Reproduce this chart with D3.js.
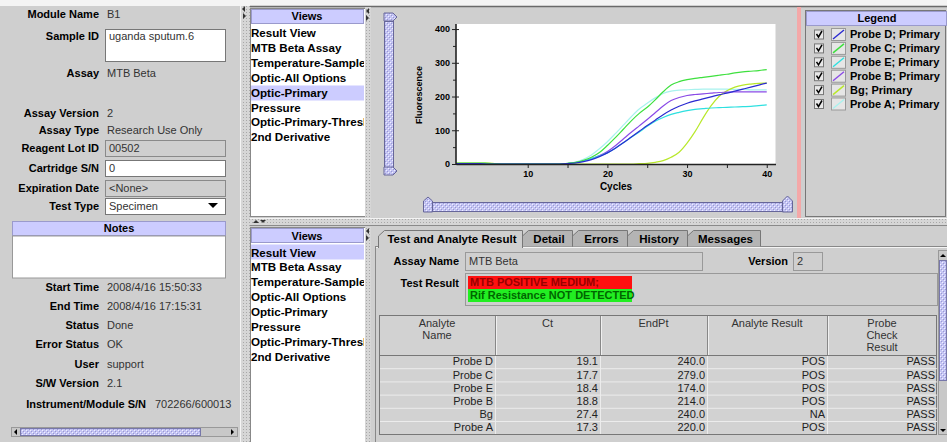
<!DOCTYPE html>
<html><head><meta charset="utf-8">
<script src="https://cdn.jsdelivr.net/npm/d3@7/dist/d3.min.js"></script>
<style>html,body{margin:0;padding:0;background:#fff;overflow:hidden}svg{display:block;font-family:"Liberation Sans",Arial,Helvetica,sans-serif}</style>
</head><body><svg id="c" width="947" height="442"></svg>
<script>
// ---------------- DATA ----------------
const cycles = [1,2,3,4,5,6,7,8,9,10,11,12,13,14,15,16,17,18,19,20,21,22,23,24,25,26,27,28,29,30,31,32,33,34,35,36,37,38,39,40];
const probeD = [1,1,1,1,0,0,0,0,0,0,0,0,0,0,1,3,7,13,22,33,47,63,80,97,114,130,146,160,171,180,187,193,199,205,210,216,222,228,234,240];
const probeC = [3,3,3,3,2,1,0,0,0,0,0,0,0,0,2,5,11,20,34,55,78,103,128,150,168,190,214,234,244,250,254,257,260,263,266,270,273,275,277,280];
const probeE = [0,0,0,0,0,0,0,0,0,0,0,0,0,0,1,4,9,16,24,33,47,63,79,95,112,127,138,147,153,158,162,164,166,167,168,169,170,171,173,175];
const probeB = [0,0,0,0,0,0,0,0,0,0,0,0,0,0,1,4,9,16,25,37,54,74,94,113,132,152,172,188,197,203,206,208,210,212,213,214,214,214,214,214];
const bg     = [3,3,3,3,3,1,0,0,0,0,0,0,0,0,0,0,0,0,0,0,0,0,0,1,2,5,10,20,35,62,96,136,172,200,217,228,234,237,239,240];
const probeA = [1,1,1,1,0,0,0,0,0,0,0,0,0,0,2,6,14,27,45,66,90,115,140,163,180,196,209,216,219,220,221,222,222,222,222,221,221,220,220,220];
const seriesNames = ["Probe D; Primary","Probe C; Primary","Probe E; Primary","Probe B; Primary","Bg; Primary","Probe A; Primary"];
const seriesValues = [probeD, probeC, probeE, probeB, bg, probeA];
const seriesColors = ["#2a2ad0","#3ee03e","#2ee0e0","#8a4ae6","#b8e82a","#a8f2ee"];
const yTickValues = [0,50,100,150,200,250,300,350,400];
const xTickValues = [10,15,20,25,30,35,40];
const viewItems = ["Result View","MTB Beta Assay","Temperature-Sample","Optic-All Options","Optic-Primary","Pressure","Optic-Primary-Threshold","2nd Derivative"];
const infoLabels = ["Module Name","Sample ID","Assay","Assay Version","Assay Type","Reagent Lot ID","Cartridge S/N","Expiration Date","Test Type"];
const infoValues = ["B1","uganda sputum.6","MTB Beta","2","Research Use Only","00502","0","<None>","Specimen"];
const statusLabels = ["Start Time","End Time","Status","Error Status","User","S/W Version"];
const statusValues = ["2008/4/16 15:50:33","2008/4/16 17:15:31","Done","OK","support","2.1"];
const tabNames = ["Test and Analyte Result","Detail","Errors","History","Messages"];
const analyteNames = ["Probe D","Probe C","Probe E","Probe B","Bg","Probe A"];
const ctValues = [19.1,17.7,18.4,18.8,27.4,17.3];
const endPtValues = [240.0,279.0,174.0,214.0,240.0,220.0];
const analyteResults = ["POS","POS","POS","POS","NA","POS"];
const probeCheck = ["PASS","PASS","PASS","PASS","PASS","PASS"];

// ---------------- HELPERS ----------------
const GRAY = "#cfcfcf", LAV = "#ccccff";
const svg = d3.select("#c");
const defs = svg.append("defs");
const pat = defs.append("pattern").attr("id","bump").attr("width",4).attr("height",4).attr("patternUnits","userSpaceOnUse");
pat.append("rect").attr("width",4).attr("height",4).attr("fill","#c4c4f4");
pat.append("rect").attr("x",0).attr("y",0).attr("width",1).attr("height",1).attr("fill","#f0f0ff");
pat.append("rect").attr("x",2).attr("y",2).attr("width",1).attr("height",1).attr("fill","#f0f0ff");
pat.append("rect").attr("x",1).attr("y",1).attr("width",1).attr("height",1).attr("fill","#9a9ad0");
pat.append("rect").attr("x",3).attr("y",3).attr("width",1).attr("height",1).attr("fill","#9a9ad0");
const dp = defs.append("pattern").attr("id","dots").attr("width",3).attr("height",3).attr("patternUnits","userSpaceOnUse");
dp.append("rect").attr("width",3).attr("height",3).attr("fill","#d6d6d6");
dp.append("rect").attr("x",0).attr("y",0).attr("width",1).attr("height",1).attr("fill","#a8a8a8");
const clip = defs.append("clipPath").attr("id","vclip"); clip.append("rect").attr("x",250).attr("y",0).attr("width",114).attr("height",442);

function T(g,x,y,s,o={}){return g.append("text").attr("x",x).attr("y",y).attr("dy","0.35em")
  .attr("text-anchor",o.a||"start").attr("font-size",o.fs||11).attr("font-weight",o.b?"bold":"normal")
  .attr("fill",o.c||"#000").text(s);}
function R(g,x,y,w,h,fill,stroke,sw){return g.append("rect").attr("x",x).attr("y",y).attr("width",w).attr("height",h)
  .attr("fill",fill||"none").attr("stroke",stroke||"none").attr("stroke-width",sw||1);}
function L(g,x1,y1,x2,y2,c,w){return g.append("line").attr("x1",x1).attr("y1",y1).attr("x2",x2).attr("y2",y2).attr("stroke",c).attr("stroke-width",w||1);}
function tri(g,pts,c){return g.append("path").attr("d","M"+pts.map(p=>p.join(",")).join("L")+"Z").attr("fill",c||"#000");}

// ---------------- BACKGROUND ----------------
R(svg,0,0,947,442,GRAY);
R(svg,0,0,947,6,"#f4f4f4");
L(svg,250,6.5,947,6.5,"#6a6a6a",1.5);

// ---------------- LEFT PANEL ----------------
const lp = svg.append("g");
const infoY = [14,36,73,113,130,148,168,188,206];
infoLabels.forEach((lab,i)=>T(lp,99,infoY[i],lab,{a:"end",b:true}));
R(lp,105.5,29.5,120,32,"#fff","#777");
R(lp,105.5,140.5,120,16,GRAY,"#8a8a8a");
R(lp,105.5,160.5,120,16,"#fff","#777");
R(lp,105.5,180.5,120,16,GRAY,"#8a8a8a");
R(lp,105.5,198.5,120,16,"#fff","#777");
tri(lp,[[208,203],[218,203],[213,208]],"#000");
infoValues.forEach((v,i)=>{
  const inBox = [1,5,6,7,8].includes(i);
  T(lp,inBox?109:107,infoY[i],v,{c:"#333"});
});
R(lp,12.5,221.5,213,14,LAV,"#9a9acc");
T(lp,119,228.5,"Notes",{a:"middle",b:true});
R(lp,12.5,236,213,42,"#fff","#999");
const stY = [287,306,325,344,364,383];
statusLabels.forEach((lab,i)=>{T(lp,99,stY[i],lab,{a:"end",b:true});T(lp,107,stY[i],statusValues[i],{c:"#333"});});
T(lp,146,404,"Instrument/Module S/N",{a:"end",b:true});
T(lp,155,404,"702266/600013",{c:"#333"});
R(lp,11.5,427.5,226,9,"#c8c8c8","#999");
R(lp,20.5,428.5,180,7,"url(#bump)","#7777aa");
tri(lp,[[17,429],[17,435],[14,432]],"#000");
tri(lp,[[231,429],[231,435],[234,432]],"#000");

R(svg,240,6,10,436,"url(#dots)");
L(svg,240.5,0,240.5,442,"#f4f4f4");
tri(svg,[[245,6],[245,12],[242,9]],"#333");
tri(svg,[[243,13],[243,19],[246,16]],"#333");

// ---------------- TOP VIEWS PANEL ----------------
const vt = svg.append("g");
R(vt,250.5,8.5,115,208,"#fff","#888");
R(vt,251.5,9.5,112,14,LAV,"#9a9acc");
T(vt,307,16.5,"Views",{a:"middle",b:true});
const vtg = vt.append("g").attr("clip-path","url(#vclip)");
R(vtg,251,85.5,113,15,LAV);
viewItems.forEach((s,i)=>T(vtg,251,33+i*14.9,s,{b:true,fs:11.6}));
R(svg,365,7,6,211,"url(#dots)");
tri(svg,[[369,8],[369,14],[366,11]],"#333");
tri(svg,[[366,15],[366,21],[369,18]],"#333");

// ---------------- CHART ----------------
const cg = svg.append("g");
const ls = cg.append("g");
ls.append("path").attr("d","M384,13 L393,13 L397,17 L393,21 L384,21 Z").attr("fill","url(#bump)").attr("stroke","#666699");
R(ls,384.5,21.5,9,146,"url(#bump)","#666699");
ls.append("path").attr("d","M384,167 L393,167 L397,171 L393,175 L384,175 Z").attr("fill","url(#bump)").attr("stroke","#666699");
const bs = cg.append("g");
bs.append("path").attr("d","M423.5,212 L423.5,201 L428,197 L432.5,201 L432.5,212 Z").attr("fill","url(#bump)").attr("stroke","#666699");
R(bs,432.5,202.5,350,9,"url(#bump)","#666699");
bs.append("path").attr("d","M782.5,212 L782.5,201 L787.5,196 L792.5,201 L792.5,212 Z").attr("fill","url(#bump)").attr("stroke","#666699");

const x = d3.scaleLinear().domain([1,41.1]).range([456,775.5]);
const y = d3.scaleLinear().domain([0,415]).range([164,24]);
R(cg,x(1),y(415),x(41.1)-x(1),y(0)-y(415),"#fff");
const lineGen = d3.line().x((d,i)=>x(cycles[i])).y(d=>y(d)).curve(d3.curveMonotoneX);
const lines = cg.append("g");
for(let k=seriesValues.length-1;k>=0;k--){
  lines.append("path").attr("d",lineGen(seriesValues[k])).attr("fill","none").attr("stroke",seriesColors[k]).attr("stroke-width",1.2);
}
const yAxis = d3.axisLeft(y).tickValues(yTickValues).tickSize(4).tickPadding(2).tickSizeOuter(0)
  .tickFormat(d=>d%100===0?d:"");
const ya = cg.append("g").attr("transform",`translate(${x(1)},0)`).call(yAxis);
ya.select(".domain").attr("stroke","#222").attr("stroke-width",1.6).attr("d",`M0,${y(0)}V${y(415)}`);
ya.selectAll(".tick line").attr("stroke","#222").attr("x2",d=>d%100===0?-4:-3).attr("x1",d=>d%100===0?3:0);
ya.selectAll(".tick text").attr("font-size",9).attr("font-weight","bold").attr("fill","#000").attr("font-family","Liberation Sans, Arial, sans-serif");
const xAxis = d3.axisBottom(x).tickValues(xTickValues).tickSize(4).tickPadding(3).tickSizeOuter(0)
  .tickFormat(d=>d%10===0?d:"");
const xa = cg.append("g").attr("transform",`translate(0,${y(0)})`).call(xAxis);
xa.select(".domain").attr("stroke","#222").attr("stroke-width",1.4);
xa.selectAll(".tick line").attr("stroke","#222");
xa.selectAll(".tick text").attr("font-size",9).attr("font-weight","bold").attr("fill","#000").attr("font-family","Liberation Sans, Arial, sans-serif");
T(cg,616,186,"Cycles",{a:"middle",b:true,fs:10});
cg.append("text").attr("transform","translate(419,95) rotate(-90)").attr("dy","0.35em").attr("text-anchor","middle")
  .attr("font-size",9).attr("font-weight","bold").text("Fluorescence");

R(svg,797,7,4,211,"#f4a8a8");

// ---------------- LEGEND ----------------
const lg = svg.append("g");
R(lg,805.5,10.5,140,206,GRAY,"#777");
R(lg,806.5,11.5,140,14,LAV,"#9a9acc");
T(lg,877,18,"Legend",{a:"middle",b:true});
seriesNames.forEach((s,i)=>{
  const cy = 34.5+i*13.9;
  R(lg,814.5,cy-4.5,9,9,"#e8e8e8","#777");
  lg.append("path").attr("d",`M816.5,${cy-0.5} L818.5,${cy+2.5} L822,${cy-3.5}`).attr("fill","none").attr("stroke","#000").attr("stroke-width",1.5);
  R(lg,831.5,cy-6,14,12,"#e6e6e6","#999");
  L(lg,833,cy+4.5,844,cy-4.5,seriesColors[i],1.4);
  T(lg,850,cy,s,{b:true});
});

// ---------------- HORIZONTAL DIVIDER ----------------
R(svg,250,218,697,8,"url(#dots)");
L(svg,250,218.5,947,218.5,"#f4f4f4");
L(svg,250,225.5,947,225.5,"#8a8a8a");
tri(svg,[[253,223],[259,223],[256,220]],"#333");
tri(svg,[[260,220],[266,220],[263,223]],"#333");

// ---------------- BOTTOM VIEWS PANEL ----------------
const vb = svg.append("g");
R(vb,250.5,227.5,115,215,"#fff","#888");
R(vb,251.5,228.5,112,14,LAV,"#9a9acc");
T(vb,307,236,"Views",{a:"middle",b:true});
const vbg = vb.append("g").attr("clip-path","url(#vclip)");
R(vbg,251,244.5,113,15,LAV);
viewItems.forEach((s,i)=>T(vbg,251,252.5+i*14.9,s,{b:true,fs:11.6}));
R(svg,365,227,6,215,"url(#dots)");
tri(svg,[[369,228],[369,234],[366,231]],"#333");
tri(svg,[[366,235],[366,241],[369,238]],"#333");

// ---------------- TABS ----------------
const tb = svg.append("g");
R(tb,375.5,246.5,575,200,GRAY,"#888");
L(tb,376,247.5,947,247.5,"#f4f4f4");
const tabX = [378,522,572,627,687,760];
for(let i=tabNames.length-1;i>=0;i--){
  const x0=tabX[i], x1=tabX[i+1], sel=i===0;
  tb.append("path").attr("d",`M${x0+0.5},${sel?248:246.5} L${x0+0.5},236 L${x0+6.5},230.5 L${x1+0.5},230.5 L${x1+0.5},${sel?248:246.5}`)
    .attr("fill",sel?GRAY:"#b4b4b4").attr("stroke","#777");
  T(tb,(x0+x1)/2+2,239,tabNames[i],{a:"middle",b:true,fs:11.5});
}
L(tb,379,247.5,522,247.5,GRAY,2);
T(tb,459,261,"Assay Name",{a:"end",b:true});
R(tb,465.5,252.5,237,18,GRAY,"#999");
T(tb,469,261.5,infoValues[2],{c:"#333"});
T(tb,788,261,"Version",{a:"end",b:true});
R(tb,793.5,252.5,29,18,GRAY,"#999");
T(tb,797,261.5,infoValues[3],{c:"#333"});
T(tb,459,283,"Test Result",{a:"end",b:true});
R(tb,465.5,273.5,472,32,GRAY,"#999");
R(tb,468,276,164,13,"#ff1010");
R(tb,468,289,164,13,"#22ee22");
T(tb,470,282.5,"MTB POSITIVE MEDIUM;",{b:true,c:"#990000"});
T(tb,470,295.5,"Rif Resistance NOT DETECTED",{b:true,c:"#006600"});
const colX = [379,495,600,707,827,937];
const rowTop = 355, rowH = 13.2;
R(tb,379.5,315.5,557,119,"#d2d2d2","#777");
L(tb,380,355.5,937,355.5,"#777");
for(let r=1;r<6;r++) L(tb,380,rowTop+r*rowH+0.5,937,rowTop+r*rowH+0.5,"#ececec");
colX.slice(1,5).forEach(cx=>{L(tb,cx+0.5,316,cx+0.5,355,"#888");L(tb,cx+1.5,316,cx+1.5,355,"#f0f0f0");L(tb,cx+0.5,356,cx+0.5,434,"#ececec");});
const hdr = [["Analyte","Name"],["Ct"],["EndPt"],["Analyte Result"],["Probe","Check","Result"]];
hdr.forEach((lines_,c)=>lines_.forEach((s,j)=>T(tb,(colX[c]+colX[c+1])/2,323+j*12.3,s,{a:"middle",c:"#333"})));
const cols = [analyteNames, ctValues.map(v=>v.toFixed(1)), endPtValues.map(v=>v.toFixed(1)), analyteResults, probeCheck];
cols.forEach((col,c)=>col.forEach((v,r)=>T(tb,colX[c+1]-2,rowTop+r*rowH+rowH/2,v,{a:"end",c:"#222"})));
R(tb,938.5,250.5,9,184,"#c8c8c8","#999");
R(tb,939.5,260.5,7,120,"url(#bump)","#7777aa");
tri(tb,[[940,257],[946,257],[943,254]],"#000");
tri(tb,[[940,429],[946,429],[943,432]],"#000");
</script></body></html>
